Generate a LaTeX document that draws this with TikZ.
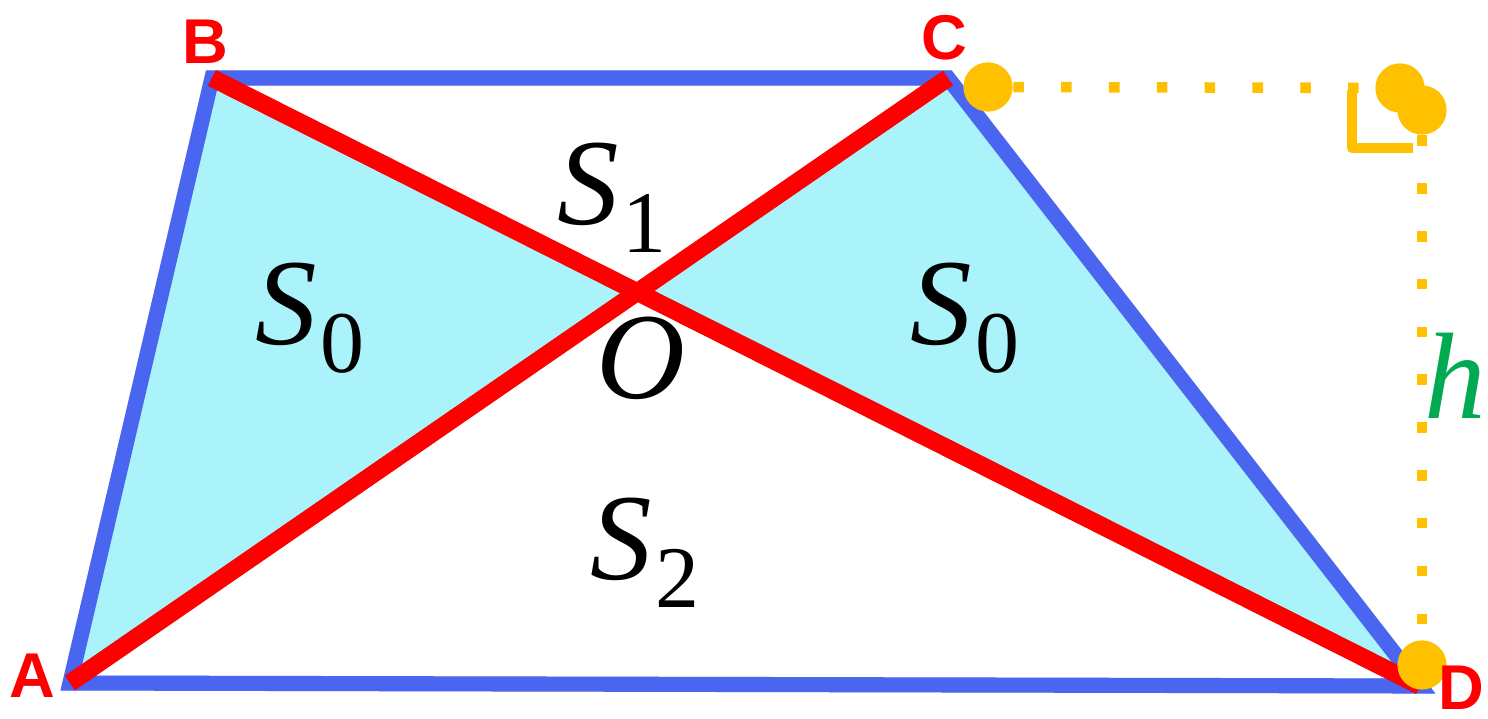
\documentclass[tikz,border=0pt]{standalone}
\usepackage{fontspec}
\setmainfont{Liberation Serif}
\newfontfamily\labelfont{Liberation Sans}
\usepackage{tikz}
\usetikzlibrary{calc,positioning}
\definecolor{edgeblue}{RGB}{74,102,240}
\definecolor{areacyan}{RGB}{170,243,250}
\definecolor{heightorange}{RGB}{255,192,0}
\definecolor{hgreen}{RGB}{0,170,80}
\newcommand{\sarea}[1]{\textit{S}\kern1pt\raisebox{-0.5ex}{\fontsize{25}{25}\selectfont #1}}
\tikzset{
	side/.style={draw=edgeblue, line width=4.3pt, line join=miter},
	diag/.style={draw=red, line width=5pt},
	shade/.style={draw=black, opacity=0.18, shift={(3,-5)}},
	area/.style={fill=areacyan},
	dot/.style={circle, fill=heightorange, minimum size=14pt, inner sep=0pt},
	dotline/.style={draw=heightorange, line width=3pt, dash pattern=on 3pt off 10.6pt},
	rightmark/.style={draw=heightorange, line width=3pt, line join=round},
	vertex/.style={text=red, font=\labelfont\bfseries\fontsize{18}{20}\selectfont, inner sep=0pt},
	region/.style={font=\fontsize{35}{40}\selectfont, inner sep=0pt}
}
\begin{document}
\begin{tikzpicture}[x=0.01cm, y=0.01cm]
	\useasboundingbox (0,0) rectangle (1488,718);
	\coordinate (A) at (70,35);
	\coordinate (B) at (212,640);
	\coordinate (C) at (948,640);
	\coordinate (D) at (1420,32);
	\coordinate (O) at (intersection of A--C and B--D);
	% shaded triangles
	\path[area] (A) -- (B) -- (O) -- cycle;
	\path[area] (C) -- (D) -- (O) -- cycle;
	\draw[side, shade] (A) -- (B) -- (C) -- (D) -- cycle;
	\draw[side] (A) -- (B) -- (C) -- (D) -- cycle;
	\draw[diag, shade] (A) -- (C) (B) -- (D);
	\draw[diag] (A) -- (C);
	\draw[diag] (B) -- (D);
	% height
	\node[dot] (Cdot) at (988,631) {};
	\node[dot] (Edot) at (1422,608) {};
	\node[dot] (Fdot) at (1400,630) {};
	\node[dot] (Ddot) at (1422,53) {};
	\draw[dotline] (Cdot) -- (Fdot);
	\draw[dotline] (Edot) -- (Ddot);
	\draw[rightmark] (1352,628) -- (1352,570) -- (1413,570);
	% labels
	\node[vertex] (lA) [left=4pt of A, yshift=2pt] {A};
	\node[vertex] (lB) [above=4pt of B, xshift=-2pt] {B};
	\node[vertex] (lC) [above=5pt of C, xshift=-1pt] {C};
	\node[vertex] (lD) [below right=-6pt and 5pt of D] {D};
	\node[region] (S1) at (612,520) {\sarea{1}};
	\node[region] (S0a) at (310,400) {\sarea{0}};
	\node[region] (S0b) at (965,400) {\sarea{0}};
	\node[region] (lO) [below=7pt of O, xshift=1pt] {\textit{O}};
	\node[region] (S2) at (645,165) {\sarea{2}};
	\node[region, text=hgreen] (h) at (1455,342) {\textit{h}};
\end{tikzpicture}
\end{document}
